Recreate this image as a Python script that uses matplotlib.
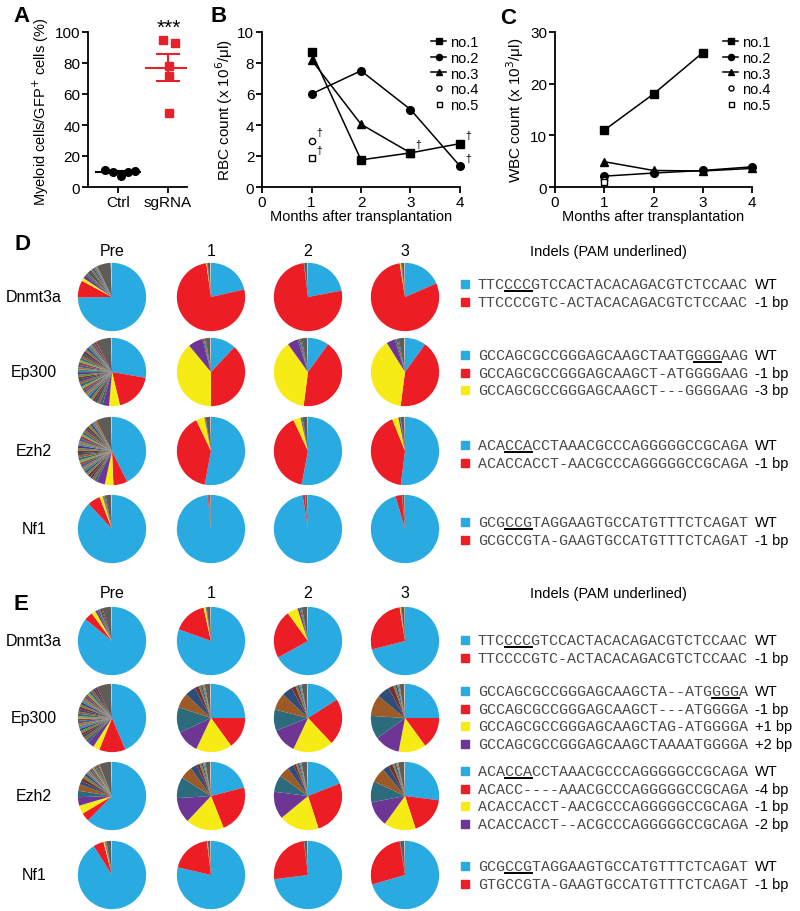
import matplotlib
matplotlib.use('Agg')
import matplotlib.pyplot as plt
from matplotlib.lines import Line2D
from matplotlib.patches import Rectangle
import numpy as np

plt.rcParams['font.family'] = ['Liberation Sans', 'DejaVu Sans']

# ---------------- data ----------------
# panel A
groups = ['Ctrl', 'sgRNA']
ctrl_vals = [11.0, 9.9, 7.3, 9.5, 10.3]
sgrna_vals = [95.0, 93.0, 78.0, 71.4, 47.5]

# panels B, C (months after transplantation)
mice = ['no.1', 'no.2', 'no.3', 'no.4', 'no.5']
rbc_months = [[1, 2, 3, 4], [1, 2, 3, 4], [1, 2, 3], [1], [1]]
rbc_vals = [[8.7, 1.75, 2.2, 2.8], [6.0, 7.5, 5.0, 1.35], [8.2, 4.05, 2.2], [3.0], [1.85]]
wbc_months = [[1, 2, 3], [1, 2, 3, 4], [1, 2, 3, 4], [1], [1]]
wbc_vals = [[11.0, 18.0, 26.0], [2.1, 2.7, 3.2, 3.9], [4.9, 3.2, 3.1, 3.6], [1.3], [1.0]]

# panels D, E: allele fractions (%) per pie
# order: WT, indel1, indel2, indel3, ...other alleles..., grey rest, last sliver
timepoints = ['Pre', '1', '2', '3']
genes = ['Dnmt3a', 'Ep300', 'Ezh2', 'Nf1']

d_dnmt3a = [[74, 8, 1.5, 1.5, 1.0, 0.8, 1.0, 0.7, 0.9, 0.8, 1.0, 0.7, 6.5, 0.6],
            [21.5, 76.5, 0.3, 0, 0.3, 1.2, 0.4],
            [22, 76, 0, 0, 0.3, 1.4, 0.3],
            [18.5, 79, 0.5, 0.2, 0.3, 1.2, 0.3]]
d_ep300 = [[27, 18, 5, 3, 1.4, 1.2, 1.3, 1.1, 1.2, 1.0, 1.3, 1.2, 1.1, 1.2, 1.0, 1.3, 1.1, 1.2,
            1.0, 1.1, 1.2, 1.3, 1.0, 1.1, 1.2, 1.1, 1.0, 1.2, 1.1, 1.3, 1.0, 1.1, 1.2, 1.0,
            1.1, 1.2, 7.0, 0.5],
           [12, 38, 39, 7, 0.6, 0.5, 0.4, 2.0, 0.5],
           [10, 42, 38, 5, 0.8, 0.6, 0.5, 2.5, 0.5],
           [10, 42, 39, 4, 0.8, 0.6, 0.5, 2.5, 0.5]]
d_ezh2 = [[42, 6.5, 4, 4, 1.3, 1.2, 1.1, 1.3, 1.2, 1.0, 1.2, 1.1, 1.3, 1.0, 1.2, 1.1, 1.2,
           1.0, 1.3, 1.1, 1.2, 1.0, 1.1, 1.2, 1.3, 1.0, 1.1, 1.2, 1.0, 1.1, 1.2, 1.0, 1.1,
           1.2, 7.0, 0.5],
          [53, 40, 4, 0.3, 0.3, 2.2, 0.3],
          [53, 40, 3.5, 0.5, 0.4, 2.3, 0.3],
          [52, 42, 3, 0.7, 0.3, 1.8, 0.3]]
d_nf1 = [[88, 6, 1.5, 0.3, 0.4, 0.3, 0.4, 2.6, 0.4],
         [98.5, 0.4, 0, 0, 0.2, 0.8, 0.2],
         [97.5, 1.0, 0, 0, 0.2, 1.1, 0.2],
         [95.5, 3.0, 0, 0, 0.2, 1.1, 0.2]]

e_dnmt3a = [[86, 4, 2, 1, 0.8, 0.6, 0.7, 0.5, 4.0, 0.5],
            [80.5, 16, 1, 0.2, 0.3, 1.7, 0.3],
            [67, 23, 5, 1, 0.6, 0.5, 2.5, 0.4],
            [71, 26.5, 0.4, 0.2, 0.2, 1.5, 0.2]]
e_ep300 = [[42, 12, 3, 3, 1.5, 1.3, 1.2, 1.1, 1.2, 1.0, 1.3, 1.1, 1.2, 1.0, 1.1, 1.2, 1.0,
            1.1, 1.2, 1.0, 1.1, 1.0, 1.2, 1.1, 1.0, 1.1, 1.2, 1.0, 1.1, 1.0, 6.5, 0.5],
           [25, 15, 17, 11, 12, 7, 5, 2, 1, 0.8, 0.6, 0.5, 2.5, 0.5],
           [16, 22, 19, 12, 10, 8, 5, 2, 1, 0.8, 0.6, 0.5, 2.6, 0.5],
           [25, 15, 13, 12, 11, 10, 6, 2.5, 1, 0.8, 0.6, 0.5, 2.1, 0.5]]
e_ezh2 = [[62, 4, 4, 4, 3, 3, 1.8, 1.6, 1.4, 1.2, 1.0, 1.0, 0.9, 0.8, 0.8, 0.7, 0.6, 0.6,
           0.5, 0.5, 5.5, 0.5],
          [21, 23, 18, 12, 10, 6, 3, 1.5, 1, 0.7, 0.6, 0.5, 2.2, 0.5],
          [19, 26, 19, 13, 8, 5, 3, 1.2, 0.9, 0.7, 0.6, 0.5, 2.6, 0.5],
          [27, 18, 15, 12, 10, 7, 3, 2, 1, 0.7, 0.6, 0.5, 2.7, 0.5]]
e_nf1 = [[91, 5, 0.5, 0.2, 0.3, 0.2, 0.2, 2.2, 0.4],
         [78.6, 19.5, 0.2, 0, 0.2, 1.2, 0.3],
         [73, 25, 0, 0, 0.2, 1.5, 0.3],
         [70.5, 27, 0, 0, 0.3, 1.9, 0.3]]

# indel sequences
d_seqs = [["TTCCCCGTCCACTACACAGACGTCTCCAAC", "TTCCCCGTC-ACTACACAGACGTCTCCAAC"],
          ["GCCAGCGCCGGGAGCAAGCTAATGGGGAAG", "GCCAGCGCCGGGAGCAAGCT-ATGGGGAAG",
           "GCCAGCGCCGGGAGCAAGCT---GGGGAAG"],
          ["ACACCACCTAAACGCCCAGGGGGCCGCAGA", "ACACCACCT-AACGCCCAGGGGGCCGCAGA"],
          ["GCGCCGTAGGAAGTGCCATGTTTCTCAGAT", "GCGCCGTA-GAAGTGCCATGTTTCTCAGAT"]]
d_labels = [["WT", "-1 bp"], ["WT", "-1 bp", "-3 bp"], ["WT", "-1 bp"], ["WT", "-1 bp"]]
d_pam = [3, 24, 3, 3]

e_seqs = [["TTCCCCGTCCACTACACAGACGTCTCCAAC", "TTCCCCGTC-ACTACACAGACGTCTCCAAC"],
          ["GCCAGCGCCGGGAGCAAGCTA--ATGGGGA", "GCCAGCGCCGGGAGCAAGCT---ATGGGGA",
           "GCCAGCGCCGGGAGCAAGCTAG-ATGGGGA", "GCCAGCGCCGGGAGCAAGCTAAAATGGGGA"],
          ["ACACCACCTAAACGCCCAGGGGGCCGCAGA", "ACACC----AAACGCCCAGGGGGCCGCAGA",
           "ACACCACCT-AACGCCCAGGGGGCCGCAGA", "ACACCACCT--ACGCCCAGGGGGCCGCAGA"],
          ["GCGCCGTAGGAAGTGCCATGTTTCTCAGAT", "GTGCCGTA-GAAGTGCCATGTTTCTCAGAT"]]
e_labels = [["WT", "-1 bp"], ["WT", "-1 bp", "+1 bp", "+2 bp"],
            ["WT", "-4 bp", "-1 bp", "-2 bp"], ["WT", "-1 bp"]]
e_pam = [3, 26, 3, 3]

# ---------------- style / layout ----------------
W, H = 800, 912
blue, red, yellow, purple = '#29abe2', '#ec1d25', '#f6eb14', '#6e3694'
others = ['#2c6b7c', '#9b5a26', '#2e4d78', '#7c2b2e', '#6a8b3b', '#4e3a7a',
          '#3c8a9c', '#b56d2d', '#3d5f93', '#9e3b39', '#84a54a']
grey, light = '#5e5b58', '#c9c9c9'
seq_grey = '#4a4a4a'
fs = 10.5


def fx(x):
    return x / W


def fy(y):
    return 1 - y / H


fig = plt.figure(figsize=(8, 9.12), dpi=100)


def style_axes(ax):
    for s in ['top', 'right']:
        ax.spines[s].set_visible(False)
    for s in ['left', 'bottom']:
        ax.spines[s].set_linewidth(1.3)
    ax.tick_params(width=1.3, length=4, labelsize=11, pad=1.5)


# ---- A
axA = fig.add_axes([fx(88), fy(188), fx(99), 155 / H])
ctrl_dx = [-0.26, -0.1, 0.06, 0.2, 0.34]
sg_dx = [-0.1, 0.14, 0.02, 0.02, 0.02]
axA.plot(np.array(ctrl_dx), ctrl_vals, 'o', color='black', ms=5.5, clip_on=False, zorder=3)
axA.plot(1 + np.array(sg_dx), sgrna_vals, 's', color='#e8202a', ms=5.5, clip_on=False, zorder=3)
for i, (vals, c) in enumerate([(ctrl_vals, 'black'), (sgrna_vals, '#e8202a')]):
    m = np.mean(vals)
    sem = np.std(vals, ddof=1) / np.sqrt(len(vals))
    axA.plot([i - 0.44, i + 0.44], [m, m], color=c, lw=1.5)
    axA.plot([i, i], [m - sem, m + sem], color=c, lw=1.5)
    axA.plot([i - 0.22, i + 0.22], [m + sem, m + sem], color=c, lw=1.5)
    axA.plot([i - 0.22, i + 0.22], [m - sem, m - sem], color=c, lw=1.5)
axA.set_xlim(-0.6, 1.38)
axA.set_ylim(0, 100)
axA.set_yticks([0, 20, 40, 60, 80, 100])
axA.set_xticks([0, 1])
axA.set_xticklabels(groups)
style_axes(axA)
axA.set_ylabel('Myeloid cells/GFP$^{+}$ cells (%)', fontsize=10.5)
axA.yaxis.set_label_coords(-0.37, 0.49)
axA.text(1.02, 103, '***', ha='center', va='center', fontsize=15)

# ---- B and C
markers = [('s', 'black'), ('o', 'black'), ('^', 'black'), ('o', 'white'), ('s', 'white')]


def line_panel(ax, months_list, vals_list, ymax, yticks, ylabel, dagger):
    for k, name in enumerate(mice):
        mk, fc = markers[k]
        ms = 4.5 if fc == 'white' else 5.5
        ls = '-' if len(vals_list[k]) > 1 else 'none'
        ax.plot(months_list[k], vals_list[k], marker=mk, color='black', mfc=fc, mec='black',
                ms=ms, lw=1.1, ls=ls, mew=1.0, clip_on=False, label=name, zorder=3)
        if dagger:
            ax.annotate('\u2020', (months_list[k][-1], vals_list[k][-1]), xytext=(3.5, 2.5),
                        textcoords='offset points', fontsize=7.5, ha='left', va='bottom')
    ax.set_xlim(0, 4)
    ax.set_ylim(0, ymax)
    ax.set_xticks([0, 1, 2, 3, 4])
    ax.set_yticks(yticks)
    style_axes(ax)
    ax.set_xlabel('Months after transplantation', fontsize=fs, labelpad=0)
    ax.set_ylabel(ylabel, fontsize=11)
    ax.legend(loc='upper left', bbox_to_anchor=(0.855, 0.98), frameon=False, fontsize=fs,
              handlelength=1.0, handletextpad=0.3, labelspacing=0.12, borderpad=0,
              borderaxespad=0, markerscale=0.8)


axB = fig.add_axes([fx(262), fy(188), fx(198), 155 / H])
line_panel(axB, rbc_months, rbc_vals, 10, [0, 2, 4, 6, 8, 10],
           'RBC count (x 10$^{6}$/\u03bcl)', True)
axB.yaxis.set_label_coords(-0.135, 0.5)

axC = fig.add_axes([fx(555), fy(188), fx(197), 155 / H])
line_panel(axC, wbc_months, wbc_vals, 30, [0, 10, 20, 30],
           'WBC count (x 10$^{3}$/\u03bcl)', False)
axC.yaxis.set_label_coords(-0.145, 0.5)

# panel letters
for letter, (x, y) in zip('ABCDE', [(22, 17), (219, 17), (508, 18), (22, 244), (21, 605)]):
    fig.text(fx(x), fy(y), letter, fontsize=16, fontweight='bold', ha='center', va='center')

# ---- D and E pies
col_x = [112, 211, 308, 405]
d_row_y = [298, 373, 452, 530]
e_row_y = [642, 719, 797, 876]
r = 34.5


def draw_pie(cx, cy, vals):
    ax = fig.add_axes([fx(cx - r), fy(cy + r), 2 * r / W, 2 * r / H])
    n = len(vals)
    cols = [blue, red, yellow, purple] + [others[i % len(others)] for i in range(n - 6)] + [grey, light]
    ax.pie(vals, colors=cols, startangle=90, counterclock=False, radius=1,
           wedgeprops=dict(linewidth=0))
    ax.set_xlim(-1.01, 1.01)
    ax.set_ylim(-1.01, 1.01)
    ax.set_aspect('equal')
    ax.axis('off')


for panel, row_y, head_y in [([d_dnmt3a, d_ep300, d_ezh2, d_nf1], d_row_y, 252),
                             ([e_dnmt3a, e_ep300, e_ezh2, e_nf1], e_row_y, 593)]:
    for j, t in enumerate(timepoints):
        fig.text(fx(col_x[j]), fy(head_y), t, fontsize=11.5, ha='center', va='center')
    for g, gene in enumerate(genes):
        fig.text(fx(34), fy(row_y[g]), gene, fontsize=11.5, ha='center', va='center')
        for j in range(4):
            draw_pie(col_x[j], row_y[g], panel[g][j])

# ---- indel sequences
seq_x = 478
char_w = 9.0
d_seq_y = [285, 356, 446, 523]
e_seq_y = [641, 692, 772, 867]
step = 17.6
variant_cols = [blue, red, yellow, purple]

for seqs, labels, pam, starts, title_y in [(d_seqs, d_labels, d_pam, d_seq_y, 252),
                                           (e_seqs, e_labels, e_pam, e_seq_y, 594)]:
    fig.text(fx(608), fy(title_y), 'Indels (PAM underlined)', fontsize=fs,
             ha='center', va='center')
    for g in range(len(seqs)):
        for k, s in enumerate(seqs[g]):
            y = starts[g] + k * step
            fig.add_artist(Rectangle((fx(461), fy(y + 4)), 8 / W, 8 / H,
                                     color=variant_cols[k], transform=fig.transFigure))
            fig.text(fx(seq_x), fy(y), s, family='Liberation Mono', fontsize=10.8,
                     color=seq_grey, ha='left', va='center')
            fig.text(fx(755), fy(y), labels[g][k], fontsize=fs, ha='left', va='center')
        y0 = starts[g] + 6.5
        x0 = seq_x + char_w * pam[g]
        fig.add_artist(Line2D([fx(x0), fx(x0 + 3 * char_w)], [fy(y0), fy(y0)],
                              color='black', lw=1.4, transform=fig.transFigure))

fig.savefig('out.png', dpi=100)
